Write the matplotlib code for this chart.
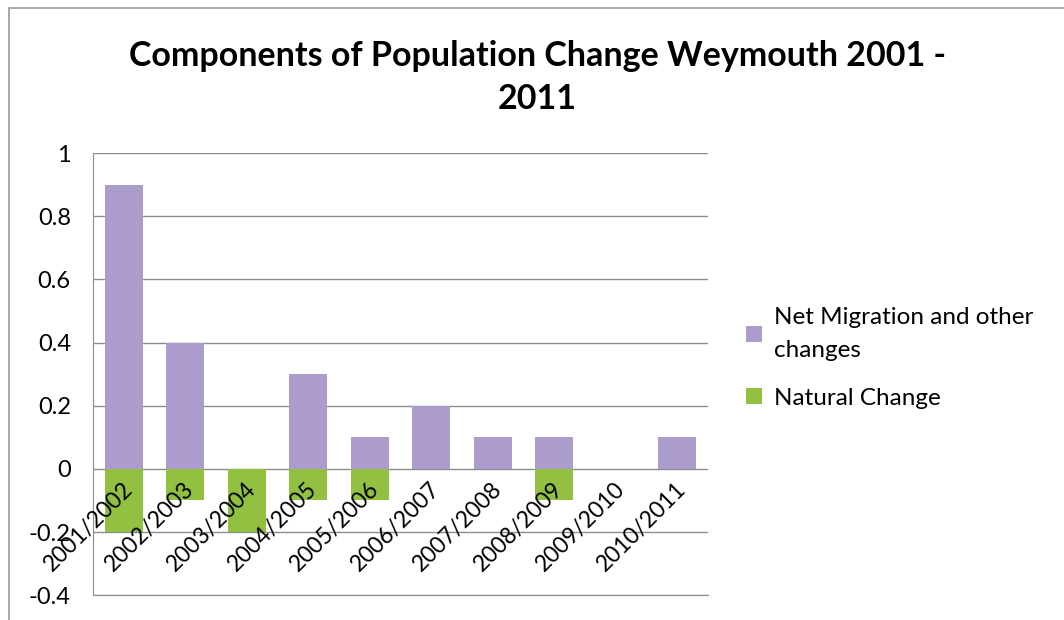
import numpy as np
import matplotlib.pyplot as plt
from matplotlib.patches import Rectangle

# Daten
periods = ['2001/2002', '2002/2003', '2003/2004', '2004/2005', '2005/2006',
           '2006/2007', '2007/2008', '2008/2009', '2009/2010', '2010/2011']
net_migration = [0.9, 0.4, 0.0, 0.3, 0.1, 0.2, 0.1, 0.1, 0.0, 0.1]
natural_change = [-0.2, -0.1, -0.2, -0.1, -0.1, 0.0, 0.0, -0.1, 0.0, 0.0]
yticks = [-0.4, -0.2, 0, 0.2, 0.4, 0.6, 0.8, 1]
ytick_labels = ['-0.4', '-0.2', '0', '0.2', '0.4', '0.6', '0.8', '1']

purple = '#ab9ccc'
green = '#92c040'
grid_col = '#8c8c8c'

plt.rcParams['font.family'] = ['Lato', 'DejaVu Sans']

fig = plt.figure(figsize=(10.64, 6.2), dpi=100)
ax = fig.add_axes([0.0874, 0.040, 0.578, 0.713])

x = np.arange(len(periods))
ax.bar(x, net_migration, width=0.62, color=purple, label='Net Migration and other\nchanges', zorder=2)
ax.bar(x, natural_change, width=0.62, color=green, label='Natural Change', zorder=2)

ax.set_xlim(-0.5, len(periods) - 0.5)
ax.set_ylim(-0.4, 1)
ax.set_yticks(yticks)
ax.set_yticklabels(ytick_labels, fontsize=17)
ax.tick_params(axis='y', length=0, pad=16)
ax.set_xticks([])
ax.yaxis.grid(True, color=grid_col, linewidth=1.0, zorder=0)
ax.set_axisbelow(True)
for s in ['top', 'right']:
    ax.spines[s].set_visible(False)
ax.spines['left'].set_color(grid_col)
ax.spines['bottom'].set_color(grid_col)

# Kategorie-Beschriftungen schräg unter der Nulllinie
for i, p in enumerate(periods):
    ax.annotate(p, xy=(i, 0), xytext=(4, -12), textcoords='offset points',
                rotation=45, rotation_mode='anchor', ha='right', va='center',
                fontsize=16.5, zorder=3)

fig.text(0.505, 0.910, 'Components of Population Change Weymouth 2001 -',
         ha='center', va='center', fontsize=24.5, fontweight='bold')
fig.text(0.505, 0.840, '2011', ha='center', va='center', fontsize=24.5, fontweight='bold')

leg = fig.legend(loc='upper left', bbox_to_anchor=(0.681, 0.54), frameon=False,
                 fontsize=17.5, handlelength=0.65, handleheight=0.65, handletextpad=0.5,
                 labelspacing=1.1)
leg.get_texts()[0].set_linespacing(1.7)

# Rahmen um das Diagramm
fig.patches.append(Rectangle((0.008, -0.05), 1.5, 1.037, transform=fig.transFigure,
                             fill=False, edgecolor='#9a9a9a', linewidth=1.2))

fig.savefig('out.png', dpi=100)
